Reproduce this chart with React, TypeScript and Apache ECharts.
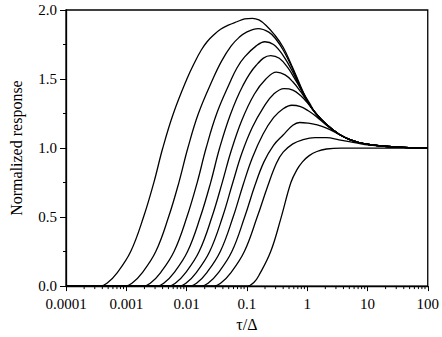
import React, { useEffect, useRef } from 'react';
import * as echarts from 'echarts';

const xTickLabels = ['0.0001', '0.001', '0.01', '0.1', '1', '10', '100'];
const yTickLabels = ['0.0', '0.5', '1.0', '1.5', '2.0'];
const minorMultipliers = [2, 3, 4, 5, 6, 7, 8, 9];
const minorDecades = [-4, -3, -2, -1, 0, 1];

// each point: [log10(τ/Δ), normalized response]
const curve1 = [[-4, 0], [-3.433, 0], [-3.321, 0.02], [-3.145, 0.1], [-2.927, 0.25], [-2.714, 0.5], [-2.543, 0.75], [-2.395, 1.0], [-2.219, 1.25], [-1.995, 1.5], [-1.867, 1.62], [-1.756, 1.71], [-1.66, 1.77], [-1.548, 1.82], [-1.436, 1.86], [-1.308, 1.89], [-1.165, 1.915], [-1.037, 1.935], [-0.909, 1.94], [-0.8, 1.928], [-0.685, 1.89], [-0.54, 1.82], [-0.398, 1.73], [-0.238, 1.58], [-0.11, 1.45], [0.018, 1.33], [0.145, 1.25], [0.321, 1.17], [0.529, 1.1], [0.72, 1.06], [0.96, 1.03], [1.28, 1.013], [1.599, 1.005], [2, 1.0]];
const curve2 = [[-4, 0], [-3.018, 0], [-2.906, 0.02], [-2.73, 0.1], [-2.511, 0.25], [-2.299, 0.5], [-2.128, 0.75], [-1.979, 1.0], [-1.804, 1.25], [-1.564, 1.5], [-1.42, 1.63], [-1.26, 1.74], [-1.133, 1.8], [-1.005, 1.84], [-0.813, 1.865], [-0.637, 1.84], [-0.52, 1.79], [-0.398, 1.71], [-0.238, 1.57], [-0.11, 1.44], [0.018, 1.33], [0.145, 1.25], [0.321, 1.17], [0.529, 1.1], [0.72, 1.06], [0.96, 1.03], [1.28, 1.013], [1.599, 1.005], [2, 1.0]];
const curve3 = [[-4, 0], [-2.714, 0], [-2.602, 0.02], [-2.427, 0.1], [-2.208, 0.25], [-1.995, 0.5], [-1.824, 0.75], [-1.676, 1.0], [-1.5, 1.25], [-1.276, 1.48], [-1.165, 1.58], [-1.037, 1.66], [-0.845, 1.74], [-0.701, 1.77], [-0.558, 1.75], [-0.398, 1.67], [-0.238, 1.55], [-0.11, 1.43], [0.018, 1.33], [0.145, 1.25], [0.321, 1.17], [0.529, 1.1], [0.72, 1.06], [0.96, 1.03], [1.28, 1.013], [1.599, 1.005], [2, 1.0]];
const curve4 = [[-4, 0], [-2.49, 0], [-2.379, 0.02], [-2.203, 0.1], [-1.984, 0.25], [-1.772, 0.5], [-1.601, 0.75], [-1.452, 1.0], [-1.276, 1.24], [-1.069, 1.45], [-0.845, 1.6], [-0.605, 1.67], [-0.462, 1.65], [-0.318, 1.58], [-0.19, 1.49], [-0.078, 1.41], [0.034, 1.33], [0.145, 1.25], [0.321, 1.17], [0.529, 1.1], [0.72, 1.06], [0.96, 1.03], [1.28, 1.013], [1.599, 1.005], [2, 1.0]];
const curve5 = [[-4, 0], [-2.299, 0], [-2.187, 0.02], [-2.011, 0.1], [-1.792, 0.25], [-1.58, 0.5], [-1.409, 0.75], [-1.26, 0.98], [-1.085, 1.2], [-0.877, 1.39], [-0.685, 1.5], [-0.51, 1.55], [-0.366, 1.53], [-0.238, 1.48], [-0.11, 1.41], [0.018, 1.325], [0.145, 1.25], [0.321, 1.17], [0.529, 1.1], [0.72, 1.06], [0.96, 1.03], [1.28, 1.013], [1.599, 1.005], [2, 1.0]];
const curve6 = [[-4, 0], [-2.123, 0], [-2.011, 0.02], [-1.835, 0.1], [-1.617, 0.25], [-1.404, 0.5], [-1.233, 0.75], [-1.085, 0.96], [-0.909, 1.15], [-0.717, 1.3], [-0.558, 1.39], [-0.382, 1.43], [-0.238, 1.42], [-0.11, 1.38], [0.018, 1.32], [0.145, 1.25], [0.321, 1.17], [0.529, 1.1], [0.72, 1.06], [0.96, 1.03], [1.28, 1.013], [1.599, 1.005], [2, 1.0]];
const curve7 = [[-4, 0], [-1.947, 0], [-1.835, 0.02], [-1.66, 0.1], [-1.441, 0.25], [-1.228, 0.5], [-1.058, 0.74], [-0.909, 0.93], [-0.733, 1.1], [-0.558, 1.22], [-0.398, 1.285], [-0.254, 1.31], [-0.11, 1.3], [0.018, 1.27], [0.145, 1.23], [0.321, 1.165], [0.529, 1.1], [0.72, 1.06], [0.96, 1.03], [1.28, 1.013], [1.599, 1.005], [2, 1.0]];
const curve8 = [[-4, 0], [-1.756, 0], [-1.644, 0.02], [-1.468, 0.1], [-1.249, 0.25], [-1.037, 0.5], [-0.866, 0.73], [-0.717, 0.9], [-0.558, 1.02], [-0.398, 1.095], [-0.238, 1.165], [-0.126, 1.185], [0.018, 1.18], [0.145, 1.17], [0.321, 1.145], [0.529, 1.098], [0.72, 1.058], [0.96, 1.03], [1.28, 1.013], [1.599, 1.005], [2, 1.0]];
const curve9 = [[-4, 0], [-1.548, 0], [-1.436, 0.02], [-1.26, 0.1], [-1.042, 0.25], [-0.829, 0.5], [-0.658, 0.72], [-0.51, 0.89], [-0.398, 0.97], [-0.238, 1.03], [-0.078, 1.06], [0.129, 1.076], [0.321, 1.075], [0.529, 1.06], [0.72, 1.045], [0.96, 1.025], [1.28, 1.012], [1.599, 1.005], [2, 1.0]];
const curve10 = [[-4, 0], [-0.989, 0], [-0.877, 0.03], [-0.797, 0.08], [-0.605, 0.25], [-0.43, 0.5], [-0.27, 0.75], [-0.174, 0.84], [-0.078, 0.9], [0.034, 0.945], [0.161, 0.975], [0.321, 0.993], [0.561, 1.0], [2, 1.0]];

const curves = [curve1, curve2, curve3, curve4, curve5, curve6, curve7, curve8, curve9, curve10];

export default function App() {
  const ref = useRef<HTMLDivElement>(null);
  useEffect(() => {
    if (!ref.current) return;
    const chart = echarts.init(ref.current, null, { renderer: 'svg' });
    const font = '"Liberation Serif", "Times New Roman", serif';
    const minorTicks: number[][] = [];
    minorDecades.forEach((d) => minorMultipliers.forEach((m) => minorTicks.push([m * Math.pow(10, d), 0])));
    chart.setOption({
      animation: false,
      backgroundColor: '#ffffff',
      grid: {
        left: 54, right: 12, top: 10, bottom: 47,
        show: true, borderColor: '#000', borderWidth: 1.3, backgroundColor: 'transparent',
      },
      xAxis: {
        type: 'log', logBase: 10, min: 0.0001, max: 100,
        name: 'τ/Δ', nameLocation: 'middle', nameGap: 19,
        nameTextStyle: { fontFamily: font, fontSize: 16, color: '#000' },
        axisLine: { show: true, lineStyle: { color: '#000', width: 1.3 } },
        axisTick: { show: true, length: 5, inside: false, lineStyle: { color: '#000', width: 1 } },
        axisLabel: {
          fontFamily: font, fontSize: 15, color: '#000', margin: 10,
          formatter: (v: number) => xTickLabels[Math.round(Math.log10(v)) + 4] ?? '',
        },
        splitLine: { show: false },
      },
      yAxis: {
        type: 'value', min: 0, max: 2, interval: 0.5,
        name: 'Normalized response', nameLocation: 'middle', nameGap: 42,
        nameTextStyle: { fontFamily: font, fontSize: 16, color: '#000' },
        axisLine: { show: true, lineStyle: { color: '#000', width: 1.3 } },
        axisTick: { show: true, length: 6, inside: false, lineStyle: { color: '#000', width: 1 } },
        minorTick: { show: true, splitNumber: 2, length: 3, lineStyle: { color: '#000', width: 1 } },
        axisLabel: {
          fontFamily: font, fontSize: 15, color: '#000', margin: 9,
          formatter: (v: number) => yTickLabels[Math.round(v / 0.5)] ?? '',
        },
        splitLine: { show: false },
        minorSplitLine: { show: false },
      },
      series: [
        ...curves.map((c) => ({
          type: 'line',
          data: c.map(([e, v]) => [Math.pow(10, e), v]),
          showSymbol: false,
          symbol: 'none',
          smooth: 0.4,
          silent: true,
          lineStyle: { color: '#000', width: 1.3 },
        })),
        {
          type: 'custom',
          silent: true,
          clip: false,
          data: minorTicks,
          renderItem: (params: any, api: any) => {
            const p = api.coord([api.value(0), api.value(1)]);
            return {
              type: 'line',
              shape: { x1: p[0], y1: p[1], x2: p[0], y2: p[1] + 3 },
              style: { stroke: '#000', lineWidth: 1 },
            };
          },
        },
      ],
    });
    return () => chart.dispose();
  }, []);
  return <div ref={ref} style={{ position: 'fixed', left: 0, top: 0, width: 442, height: 337 }} />;
}
